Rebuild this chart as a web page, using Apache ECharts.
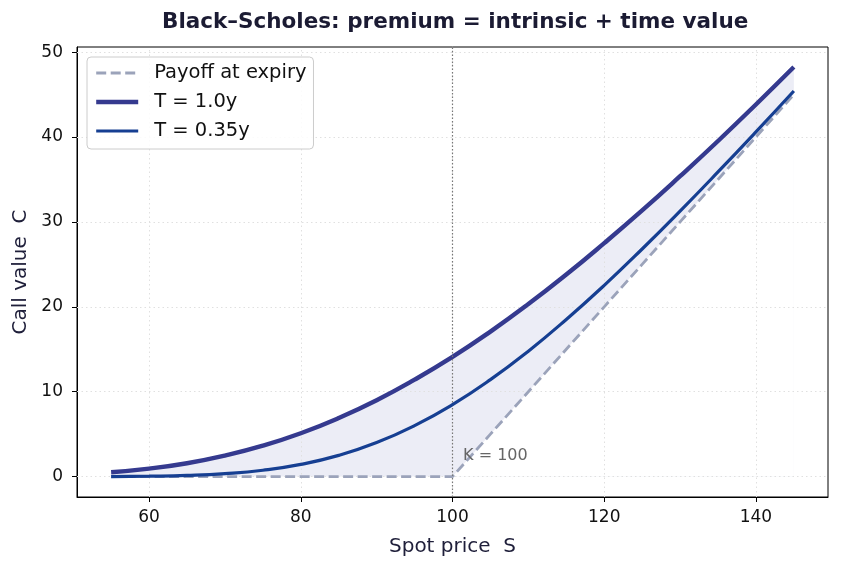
<!DOCTYPE html>
<html><head><meta charset="utf-8">
<script src="https://cdn.jsdelivr.net/npm/echarts@6/dist/echarts.min.js"></script>
<style>html,body{margin:0;padding:0;background:#fff}#c{width:841px;height:568px}</style>
</head><body><div id="c"></div>
<script>
// ---- data ----
const spot      = [55, 60, 65, 70, 75, 80, 85, 90, 95, 100, 105, 110, 115, 120, 125, 130, 135, 140, 145];
const callT1    = [0.52, 0.94, 1.58, 2.48, 3.64, 5.11, 6.90, 9.00, 11.42, 14.10, 17.08, 20.32, 23.80, 27.50, 31.35, 35.38, 39.53, 43.83, 48.24];
const callT035  = [0.01, 0.05, 0.14, 0.35, 0.75, 1.44, 2.50, 4.01, 6.01, 8.48, 11.42, 14.78, 18.51, 22.53, 26.81, 31.27, 35.88, 40.60, 45.42];
const payoff    = [0, 0, 0, 0, 0, 0, 0, 0, 0, 0, 5, 10, 15, 20, 25, 30, 35, 40, 45];
const xTicks    = [60, 80, 100, 120, 140];
const yTicks    = [0, 10, 20, 30, 40, 50];
const strike    = 100;
const strikeLabelPos = [101.4, 2.4];

const pairs = (ys) => spot.map((s, i) => [s, ys[i]]);

const FONT = 'DejaVu Sans';
const GRID_STYLE = {color: '#e0e0e0', type: [1.5, 3], width: 1};
const gridLines = xTicks.map(v => ({xAxis: v})).concat(yTicks.map(v => ({yAxis: v})));

const chart = echarts.init(document.getElementById('c'), null, {renderer: 'canvas'});
chart.setOption({
  animation: false,
  backgroundColor: '#fff',
  textStyle: {fontFamily: FONT},
  title: {
    text: 'Black\u2013Scholes: premium = intrinsic + time value',
    left: 157, top: 6,
    textStyle: {fontFamily: FONT, fontSize: 21.5, fontWeight: 'bold', color: '#1b1b33'}
  },
  grid: {left: 77, right: 13, top: 47, bottom: 71, show: true, borderColor: '#000', borderWidth: 1, backgroundColor: 'transparent', outerBoundsMode: 'none'},
  legend: {
    data: ['Payoff at expiry', 'T = 1.0y', 'T = 0.35y'],
    orient: 'vertical', left: 87, top: 57,
    padding: [6, 7, 8, 7], itemGap: 9, itemWidth: 42, itemHeight: 14,
    borderColor: '#cccccc', borderWidth: 1, borderRadius: 4, backgroundColor: 'rgba(255,255,255,0.85)',
    itemStyle: {opacity: 0},
    lineStyle: {width: 'inherit'},
    textStyle: {fontFamily: FONT, fontSize: 19.5, color: '#111', padding: [0, 0, 0, 11]}
  },
  xAxis: {
    type: 'value', min: 50.5, max: 149.5,
    name: 'Spot price  S', nameLocation: 'middle', nameGap: 40,
    nameTextStyle: {fontFamily: FONT, fontSize: 20, color: '#1f1f3a'},
    axisLine: {show: true, onZero: false, lineStyle: {color: '#000', width: 1}},
    axisTick: {show: true, inside: false, length: 5, lineStyle: {color: '#000'}, customValues: xTicks},
    axisLabel: {fontFamily: FONT, fontSize: 17, color: '#111', margin: 12, customValues: xTicks},
    splitLine: {show: false}
  },
  yAxis: {
    type: 'value', min: -2.4, max: 50.6,
    name: 'Call value  C', nameLocation: 'middle', nameGap: 46,
    nameTextStyle: {fontFamily: FONT, fontSize: 20, color: '#1f1f3a'},
    axisLine: {show: true, onZero: false, lineStyle: {color: '#000', width: 1}},
    axisTick: {show: true, inside: false, length: 5, lineStyle: {color: '#000'}, customValues: yTicks},
    axisLabel: {fontFamily: FONT, fontSize: 17, color: '#111', margin: 14, customValues: yTicks},
    splitLine: {show: false}
  },
  series: [
    // time-value band: area under T=1.0y, with the area under the payoff cut back to white
    {name: 'bandTop', type: 'line', data: pairs(callT1), symbol: 'none', smooth: true,
     lineStyle: {opacity: 0}, areaStyle: {color: '#ecedf6', opacity: 1}, silent: true, z: 1},
    {name: 'bandCut', type: 'line', data: pairs(payoff), symbol: 'none', smooth: false,
     lineStyle: {opacity: 0}, areaStyle: {color: '#ffffff', opacity: 1}, silent: true, z: 1},
    // dotted grid drawn above the band, below the curves
    {name: 'gridHelper', type: 'line', data: pairs(payoff), symbol: 'none', lineStyle: {opacity: 0}, silent: true, z: 2,
     markLine: {z: 2, silent: true, symbol: 'none', label: {show: false}, lineStyle: GRID_STYLE, data: gridLines}},
    {name: 'Payoff at expiry', type: 'line', data: pairs(payoff), symbol: 'none', smooth: false,
     lineStyle: {color: '#9ba3ba', width: 2.8, type: [10, 4.5]}, itemStyle: {color: '#9ba3ba'}, z: 3,
     markLine: {silent: true, symbol: 'none', label: {show: false},
       lineStyle: {color: '#777', type: [1.5, 2], width: 1.2},
       data: [{xAxis: strike}]},
     markPoint: {symbol: 'circle', symbolSize: 0,
       data: [{coord: strikeLabelPos}],
       label: {show: true, position: 'right', distance: 0, formatter: 'K = ' + strike, fontFamily: FONT, fontSize: 16, color: '#666'}}
    },
    {name: 'T = 1.0y', type: 'line', data: pairs(callT1), symbol: 'none', smooth: true,
     lineStyle: {color: '#353a8f', width: 4.4}, itemStyle: {color: '#353a8f'}, z: 4},
    {name: 'T = 0.35y', type: 'line', data: pairs(callT035), symbol: 'none', smooth: true,
     lineStyle: {color: '#163f92', width: 3.2}, itemStyle: {color: '#163f92'}, z: 5}
  ]
});
</script></body></html>
